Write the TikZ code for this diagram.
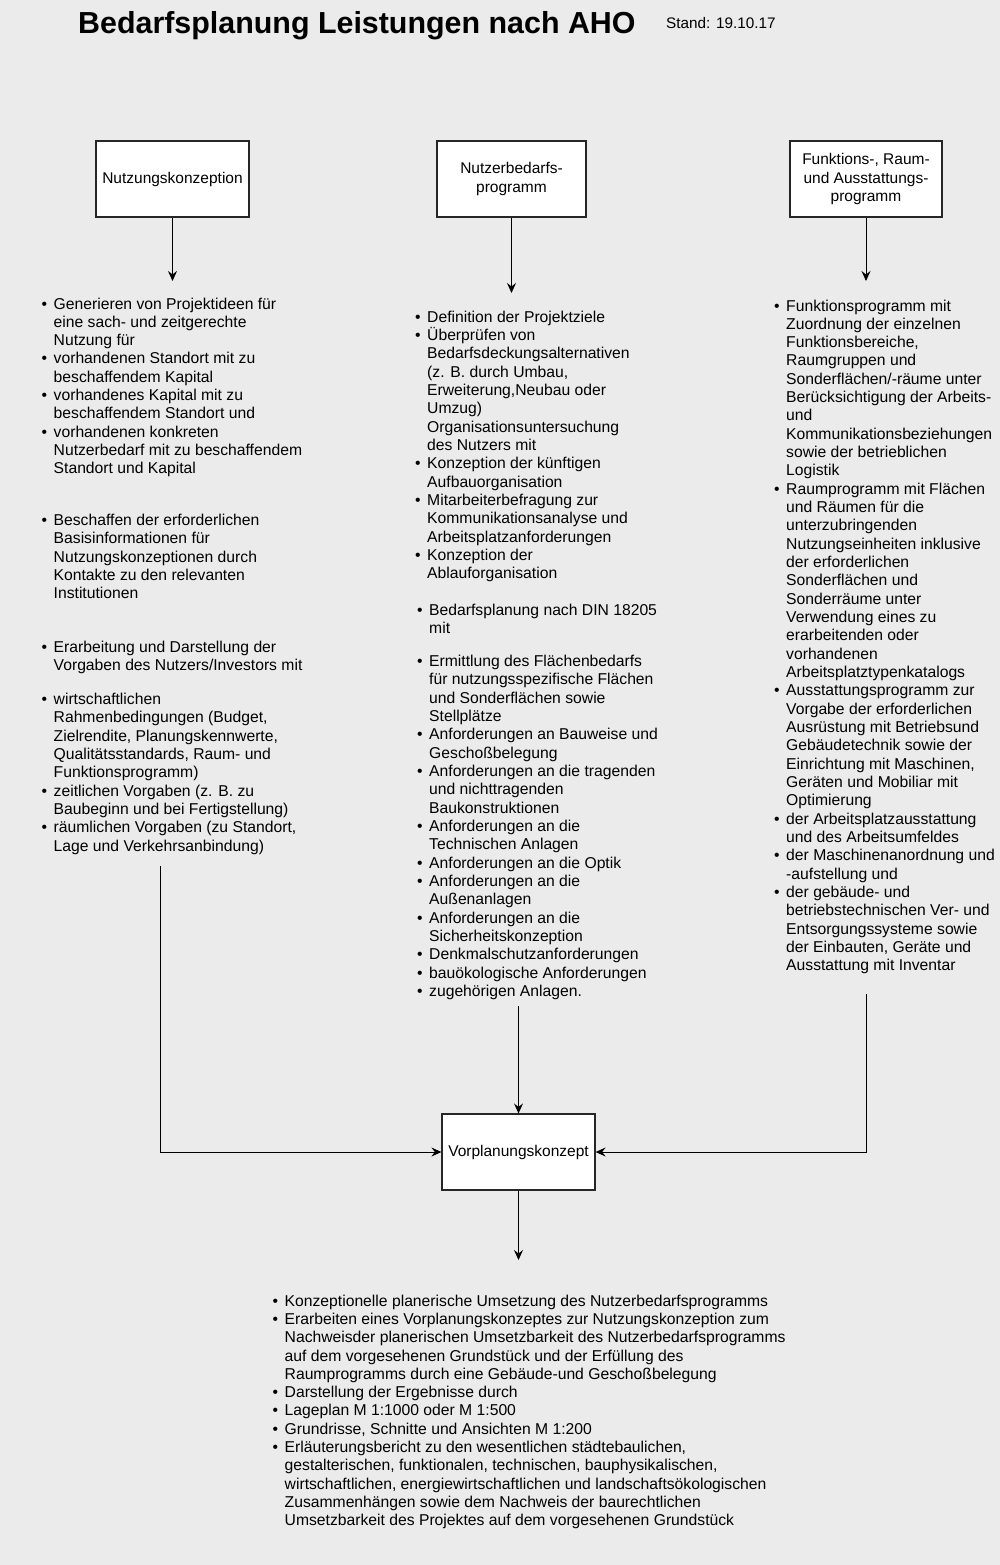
\documentclass[tikz,border=0pt]{standalone}
\usepackage{fontspec}
\setmainfont{Liberation Sans}
\usepackage{xcolor}
\usetikzlibrary{arrows.meta}
\definecolor{bgc}{HTML}{EBEBEB}
\newcommand{\bul}{\makebox[12pt][l]{\textbullet}}
\newcommand{\cont}{\hspace*{12pt}}
\newcommand{\itemlist}[1]{\begin{tabular}[t]{@{}l@{}}#1\end{tabular}}

\begin{document}
\begin{tikzpicture}[x=1pt,y=-1pt,
    box/.style={draw=black!85,fill=white,line width=1.2pt,minimum width=153pt,minimum height=76pt,inner sep=0pt,align=center,font=\fontsize{15.5}{18.4}\selectfont},
    txt/.style={anchor=base west,inner sep=0pt,font=\fontsize{15.7}{18.33}\selectfont},
    arr/.style={-{Stealth[length=10pt,width=9pt,inset=3.5pt]},line width=1pt}]
            \useasboundingbox (0,0) rectangle (1000,1565);
            \fill[bgc] (0,0) rectangle (1000,1565);
            \node[anchor=base west,inner sep=0pt,font=\bfseries\fontsize{30.4}{34}\selectfont] (title) at (78,34) {Bedarfsplanung Leistungen nach AHO};
            \node[anchor=base west,inner sep=0pt,font=\fontsize{15.3}{18}\selectfont] (stand) at (666,29) {Stand: 19.10.17};

            \node[box] (nk) at (172.5,179) {Nutzungskonzeption};
            \node[box,minimum width=149pt] (nbp) at (511.5,179) {Nutzerbedarfs-\\programm};
            \node[box,minimum width=152pt] (fra) at (866,179) {Funktions-, Raum-\\und Ausstattungs-\\programm};
            \node[box] (vpk) at (518.5,1152) {Vorplanungskonzept};

            \node[txt] (nk1) at (41.5,309) {\itemlist{\bul Generieren von Projektideen für\\
                \cont eine sach- und zeitgerechte\\
                \cont Nutzung für\\
                \bul vorhandenen Standort mit zu\\
                \cont beschaffendem Kapital\\
                \bul vorhandenes Kapital mit zu\\
                \cont beschaffendem Standort und\\
                \bul vorhandenen konkreten\\
                \cont Nutzerbedarf mit zu beschaffendem\\
                \cont Standort und Kapital}};
            \node[txt] (nk2) at (41.5,525.5) {\itemlist{\bul Beschaffen der erforderlichen\\
                \cont Basisinformationen für\\
                \cont Nutzungskonzeptionen durch\\
                \cont Kontakte zu den relevanten\\
                \cont Institutionen}};
            \node[txt] (nk3) at (41.5,652.5) {\itemlist{\bul Erarbeitung und Darstellung der\\
                \cont Vorgaben des Nutzers/Investors mit}};
            \node[txt] (nk4) at (41.5,704.5) {\itemlist{\bul wirtschaftlichen\\
                \cont Rahmenbedingungen (Budget,\\
                \cont Zielrendite, Planungskennwerte,\\
                \cont Qualitätsstandards, Raum- und\\
                \cont Funktionsprogramm)\\
                \bul zeitlichen Vorgaben (z. B. zu\\
                \cont Baubeginn und bei Fertigstellung)\\
                \bul räumlichen Vorgaben (zu Standort,\\
                \cont Lage und Verkehrsanbindung)}};

            \node[txt] (nbp1) at (415,322) {\itemlist{\bul Definition der Projektziele\\
                \bul Überprüfen von\\
                \cont Bedarfsdeckungsalternativen\\
                \cont (z. B. durch Umbau,\\
                \cont Erweiterung,Neubau oder\\
                \cont Umzug)\\
                \cont Organisationsuntersuchung\\
                \cont des Nutzers mit\\
                \bul Konzeption der künftigen\\
                \cont Aufbauorganisation\\
                \bul Mitarbeiterbefragung zur\\
                \cont Kommunikationsanalyse und\\
                \cont Arbeitsplatzanforderungen\\
                \bul Konzeption der\\
                \cont Ablauforganisation}};
            \node[txt] (nbp2) at (417,615) {\itemlist{\bul Bedarfsplanung nach DIN 18205\\
                \cont mit}};
            \node[txt] (nbp3) at (417,666.5) {\itemlist{\bul Ermittlung des Flächenbedarfs\\
                \cont für nutzungsspezifische Flächen\\
                \cont und Sonderflächen sowie\\
                \cont Stellplätze\\
                \bul Anforderungen an Bauweise und\\
                \cont Geschoßbelegung\\
                \bul Anforderungen an die tragenden\\
                \cont und nichttragenden\\
                \cont Baukonstruktionen\\
                \bul Anforderungen an die\\
                \cont Technischen Anlagen\\
                \bul Anforderungen an die Optik\\
                \bul Anforderungen an die\\
                \cont Außenanlagen\\
                \bul Anforderungen an die\\
                \cont Sicherheitskonzeption\\
                \bul Denkmalschutzanforderungen\\
                \bul bauökologische Anforderungen\\
                \bul zugehörigen Anlagen.}};

            \node[txt] (fra1) at (774,311) {\itemlist{\bul Funktionsprogramm mit\\
                \cont Zuordnung der einzelnen\\
                \cont Funktionsbereiche,\\
                \cont Raumgruppen und\\
                \cont Sonderflächen/-räume unter\\
                \cont Berücksichtigung der Arbeits-\\
                \cont und\\
                \cont Kommunikationsbeziehungen\\
                \cont sowie der betrieblichen\\
                \cont Logistik\\
                \bul Raumprogramm mit Flächen\\
                \cont und Räumen für die\\
                \cont unterzubringenden\\
                \cont Nutzungseinheiten inklusive\\
                \cont der erforderlichen\\
                \cont Sonderflächen und\\
                \cont Sonderräume unter\\
                \cont Verwendung eines zu\\
                \cont erarbeitenden oder\\
                \cont vorhandenen\\
                \cont Arbeitsplatztypenkatalogs\\
                \bul Ausstattungsprogramm zur\\
                \cont Vorgabe der erforderlichen\\
                \cont Ausrüstung mit Betriebsund\\
                \cont Gebäudetechnik sowie der\\
                \cont Einrichtung mit Maschinen,\\
                \cont Geräten und Mobiliar mit\\
                \cont Optimierung\\
                \bul der Arbeitsplatzausstattung\\
                \cont und des Arbeitsumfeldes\\
                \bul der Maschinenanordnung und\\
                \cont -aufstellung und\\
                \bul der gebäude- und\\
                \cont betriebstechnischen Ver- und\\
                \cont Entsorgungssysteme sowie\\
                \cont der Einbauten, Geräte und\\
                \cont Ausstattung mit Inventar}};

            \node[txt] (vpk1) at (272.5,1306) {\itemlist{\bul Konzeptionelle planerische Umsetzung des Nutzerbedarfsprogramms\\
                \bul Erarbeiten eines Vorplanungskonzeptes zur Nutzungskonzeption zum\\
                \cont Nachweisder planerischen Umsetzbarkeit des Nutzerbedarfsprogramms\\
                \cont auf dem vorgesehenen Grundstück und der Erfüllung des\\
                \cont Raumprogramms durch eine Gebäude-und Geschoßbelegung\\
                \bul Darstellung der Ergebnisse durch\\
                \bul Lageplan M 1:1000 oder M 1:500\\
                \bul Grundrisse, Schnitte und Ansichten M 1:200\\
                \bul Erläuterungsbericht zu den wesentlichen städtebaulichen,\\
                \cont gestalterischen, funktionalen, technischen, bauphysikalischen,\\
                \cont wirtschaftlichen, energiewirtschaftlichen und landschaftsökologischen\\
                \cont Zusammenhängen sowie dem Nachweis der baurechtlichen\\
                \cont Umsetzbarkeit des Projektes auf dem vorgesehenen Grundstück}};

            % arrow ends
            \coordinate (e1) at (172.5,281);
            \coordinate (e2) at (511.5,293);
            \coordinate (e3) at (866,281);
            \coordinate (e4) at (518.5,1260);
            \coordinate (s1) at (160,866);
            \coordinate (s2) at (518.5,1006);
            \coordinate (s3) at (866,994);

            \draw[arr] (nk) -- (e1);
            \draw[arr] (nbp) -- (e2);
            \draw[arr] (fra) -- (e3);
            \draw[arr] (s1) |- (vpk.west);
            \draw[arr] (s2) -- (vpk.north);
            \draw[arr] (s3) |- (vpk.east);
            \draw[arr] (vpk) -- (e4);
        \end{tikzpicture}
\end{document}
